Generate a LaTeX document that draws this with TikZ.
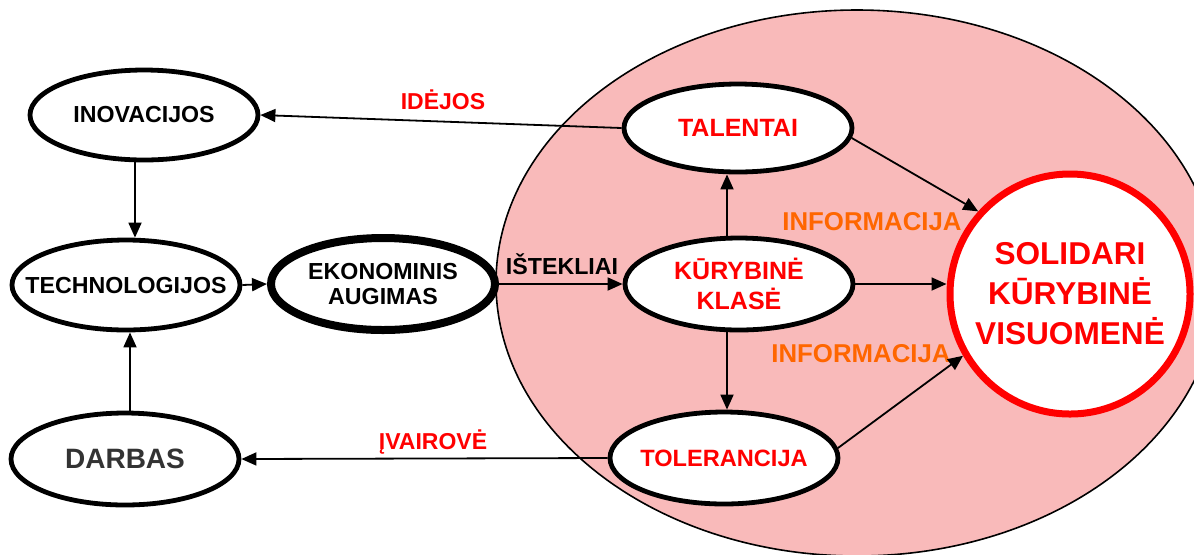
\documentclass[tikz,border=0pt]{standalone}
\usepackage{fontspec}
\setmainfont{Liberation Sans}
\usetikzlibrary{shapes.geometric, arrows.meta}
\definecolor{tagred}{RGB}{255,0,0}
\definecolor{infoorange}{RGB}{255,102,0}
\definecolor{darbasgray}{RGB}{51,51,51}
\definecolor{hatchpink}{RGB}{249,186,186}
\begin{document}
\begin{tikzpicture}[x=0.5pt, y=-0.5pt,
    oval/.style={ellipse, draw, fill=white, line width=\ovallinewidth, inner sep=0pt, minimum width=114pt, minimum height=45pt},
    arr/.style={-{Triangle[length=7.5pt, width=6.5pt]}, line width=0.9pt},
    blacktext/.style={font=\bfseries\fontsize{11.6}{13}\selectfont, align=center},
    redtext/.style={font=\bfseries\fontsize{12.5}{15}\selectfont, text=tagred, align=center},
    infotext/.style={font=\bfseries\fontsize{12.9}{15}\selectfont, text=infoorange}]
    \def\ovallinewidth{2.4pt}

    \useasboundingbox (0,0) rectangle (1194,554);
    \clip (0,0) rectangle (1194,554);

    % creative society area
    \filldraw[fill=hatchpink, draw=black, line width=0.8pt] (857,283) ellipse [x radius=180.5pt, y radius=136.5pt];

    % left side
    \node[oval, label={[blacktext]center:INOVACIJOS}] (inov) at (144,115) {};
    \node[oval, label={[blacktext]center:TECHNOLOGIJOS}] (tech) at (126,285) {};
    \node[oval, line width=4pt, minimum width=112pt, minimum height=46pt, label={[blacktext]center:EKONOMINIS\\AUGIMAS}] (ekon) at (383,284) {};
    \node[oval, minimum height=46pt, label={[blacktext, font=\bfseries\fontsize{14}{16}\selectfont, text=darbasgray]center:DARBAS}] (darbas) at (125,459) {};

    % right side
    \node[oval, minimum height=44pt, label={[redtext]center:TALENTAI}] (tal) at (738,128) {};
    \node[oval, minimum height=46pt, label={[redtext]center:KŪRYBINĖ\\KLASĖ}] (klase) at (739,284) {};
    \node[oval, minimum height=46pt, label={[redtext, font=\bfseries\fontsize{11.8}{14}\selectfont]center:TOLERANCIJA}] (tol) at (724,458) {};
    \node[ellipse, draw=tagred, fill=white, line width=3.5pt, inner sep=0pt, minimum width=120pt, minimum height=120pt, label={[redtext, font=\bfseries\fontsize{15.8}{20}\selectfont]center:SOLIDARI\\KŪRYBINĖ\\VISUOMENĖ}] (sol) at (1070,294) {};

    % connector labels
    \node[redtext, font=\bfseries\fontsize{11.5}{13}\selectfont] (idejos) at (443,100) {IDĖJOS};
    \node[redtext, font=\bfseries\fontsize{11.5}{13}\selectfont] (ivairove) at (433,442) {ĮVAIROVĖ};
    \node[blacktext] (istekliai) at (562,264) {IŠTEKLIAI};
    \node[infotext] (infotop) at (872,222) {INFORMACIJA};
    \node[infotext] (infobot) at (861,354) {INFORMACIJA};

    \draw[arr] (tal.west) -- (inov.east);
    \draw[arr] (tol.west) -- (darbas.east);
    \draw[arr] (135,0 |- inov.south) -- (135,0 |- tech.north);
    \draw[arr] (130,0 |- darbas.north) -- (130,0 |- tech.south);
    \draw[arr] (tech.east) -- (ekon.west);
    \draw[arr] (ekon.east) -- (klase.west);
    \draw[arr] (727,0 |- klase.north) -- (727,0 |- tal.south);
    \draw[arr] (727,0 |- klase.south) -- (727,0 |- tol.north);
    \draw[arr] (klase.east) -- (klase.east -| sol.west);
    \draw[arr] (tal.-5) -- (sol.138);
    \draw[arr] (tol.5) -- (sol.210);
\end{tikzpicture}
\end{document}
